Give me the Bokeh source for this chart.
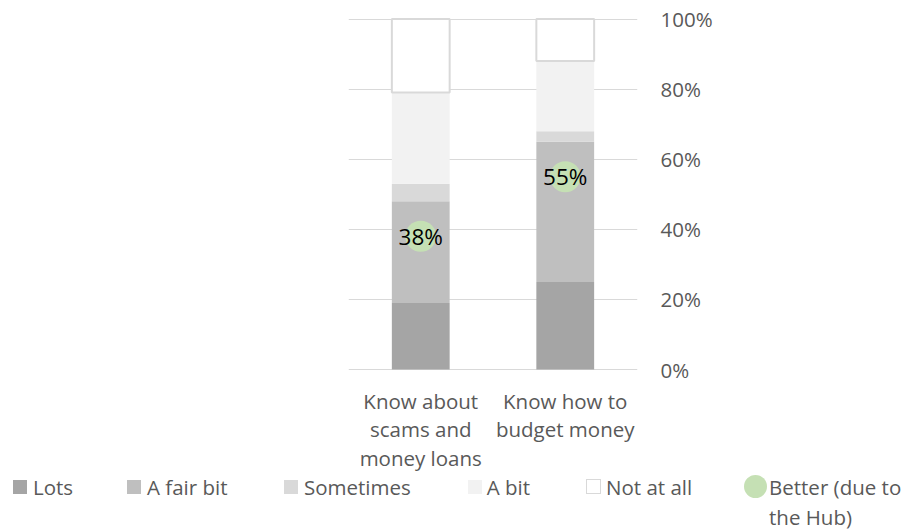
from bokeh.plotting import figure
from bokeh.layouts import column
from bokeh.models import (ColumnDataSource, Div, FixedTicker,
                          NumeralTickFormatter, Range1d, FactorRange)
from bokeh.core.properties import value
from bokeh.embed import file_html
from bokeh.resources import INLINE

# ---------------- data ----------------
categories = ["Know about\nscams and\nmoney loans", "Know how to\nbudget money"]
lots = [0.19, 0.25]
fair_bit = [0.29, 0.40]
sometimes = [0.05, 0.03]
a_bit = [0.26, 0.20]
not_at_all = [0.21, 0.12]
better = [0.38, 0.55]
series_names = ["Lots", "A fair bit", "Sometimes", "A bit", "Not at all"]
better_name_1 = "Better (due to"
better_name_2 = "the Hub)"
y_ticks = [0, 0.2, 0.4, 0.6, 0.8, 1.0]

# ---------------- styling ----------------
FONT = "Open Sans"
FS = "20.5px"
TEXT = "#595959"
fills = ["#A5A5A5", "#BFBFBF", "#D9D9D9", "#F2F2F2", "#FFFFFF"]
lines = ["#A5A5A5", "#BFBFBF", "#D9D9D9", "#F2F2F2", "#D9D9D9"]
line_alphas = [0, 0, 0, 0, 1]
GREEN = "#C5E0B4"

W, H = 909, 532
TOP_H = 475
BOT_H = H - TOP_H
F_LEFT, F_RIGHT, F_TOP, F_BOTTOM = 348, 637, 8, 379
Y0_PX, Y100_PX = 369.0, 18.5
ppu = Y0_PX - Y100_PX
y_start = -(F_BOTTOM - Y0_PX) / ppu
y_end = 1 + (Y100_PX - F_TOP) / ppu

source = ColumnDataSource(dict(
    cat=categories, lots=lots, fair_bit=fair_bit, sometimes=sometimes,
    a_bit=a_bit, not_at_all=not_at_all, better=better,
    better_label=[f"{round(v * 100)}%" for v in better],
))
stackers = ["lots", "fair_bit", "sometimes", "a_bit", "not_at_all"]

# ================= chart =================
p = figure(width=W, height=TOP_H,
           x_range=FactorRange(*categories, range_padding=0),
           y_range=Range1d(y_start, y_end),
           y_axis_location="right",
           output_backend="svg", toolbar_location=None,
           min_border_left=F_LEFT, min_border_right=W - F_RIGHT,
           min_border_top=F_TOP, min_border_bottom=TOP_H - F_BOTTOM)
p.outline_line_color = None
p.background_fill_color = "white"
p.border_fill_color = "white"

p.xgrid.visible = False
p.ygrid.ticker = FixedTicker(ticks=y_ticks)
p.ygrid.grid_line_color = "#D9D9D9"
p.ygrid.grid_line_width = 1

bars = p.vbar_stack(stackers, x="cat", width=0.4, source=source,
                    fill_color=fills, line_color=lines, line_alpha=line_alphas,
                    line_width=2)
dots = p.scatter(x="cat", y="better", size=31, fill_color=GREEN, line_alpha=0,
                 source=source)
p.text(x="cat", y="better", text="better_label", source=source,
       text_align="center", text_baseline="middle",
       text_font=value(FONT), text_font_size="22.5px", text_color="#000000")

xa = p.xaxis[0]
xa.axis_line_color = None
xa.major_tick_line_color = None
xa.minor_tick_line_color = None
xa.major_tick_out = 0
xa.major_tick_in = 0
xa.major_label_standoff = 7
xa.major_label_text_font = FONT
xa.major_label_text_font_size = FS
xa.major_label_text_color = TEXT
xa.major_label_text_line_height = 1.02

ya = p.yaxis[0]
ya.ticker = FixedTicker(ticks=y_ticks)
ya.formatter = NumeralTickFormatter(format="0%")
ya.axis_line_color = None
ya.major_tick_line_color = None
ya.minor_tick_line_color = None
ya.major_tick_out = 0
ya.major_tick_in = 0
ya.major_label_standoff = 23
ya.major_label_text_font = FONT
ya.major_label_text_font_size = FS
ya.major_label_text_color = TEXT

# ================= legend strip (HTML, below the chart) =================
ROW_C = 486.7 - TOP_H      # first legend line centre inside the strip
ROW2_C = 516.7 - TOP_H     # second line ("the Hub)")
LINE = 20
key_left = [13, 127, 284, 467.7, 585.7]
text_left = [33, 147, 304, 486.7, 606]


def key_style(i):
    size = 15 if i == 4 else 14
    border = f"border:1.5px solid {lines[i]};" if i == 4 else ""
    return (f"position:absolute;left:{key_left[i]}px;top:{ROW_C - size / 2}px;"
            f"width:{size}px;height:{size}px;box-sizing:border-box;"
            f"background:{fills[i]};{border}")


def text_span(txt, left, centre):
    return (f'<span style="position:absolute;left:{left}px;top:{centre - LINE / 2}px;'
            f'line-height:{LINE}px;white-space:nowrap;">{txt}</span>')


parts = []
for i, name in enumerate(series_names):
    parts.append(f'<span style="{key_style(i)}"></span>')
    parts.append(text_span(name, text_left[i], ROW_C))
parts.append(f'<span style="position:absolute;left:744px;top:{ROW_C - 11.5}px;'
             f'width:23px;height:23px;border-radius:50%;background:{GREEN};"></span>')
parts.append(text_span(better_name_1, 769, ROW_C))
parts.append(text_span(better_name_2, 769, ROW2_C))

html = (f'<div style="position:relative;width:{W}px;height:{BOT_H}px;'
        f'font-family:\'{FONT}\';font-size:{FS};color:{TEXT};background:white;">'
        + "".join(parts) + "</div>")
legend_div = Div(text=html, width=W, height=BOT_H, margin=(0, 0, 0, 0))

layout = column(p, legend_div, spacing=0)
open("out.html", "w").write(file_html(layout, INLINE))
